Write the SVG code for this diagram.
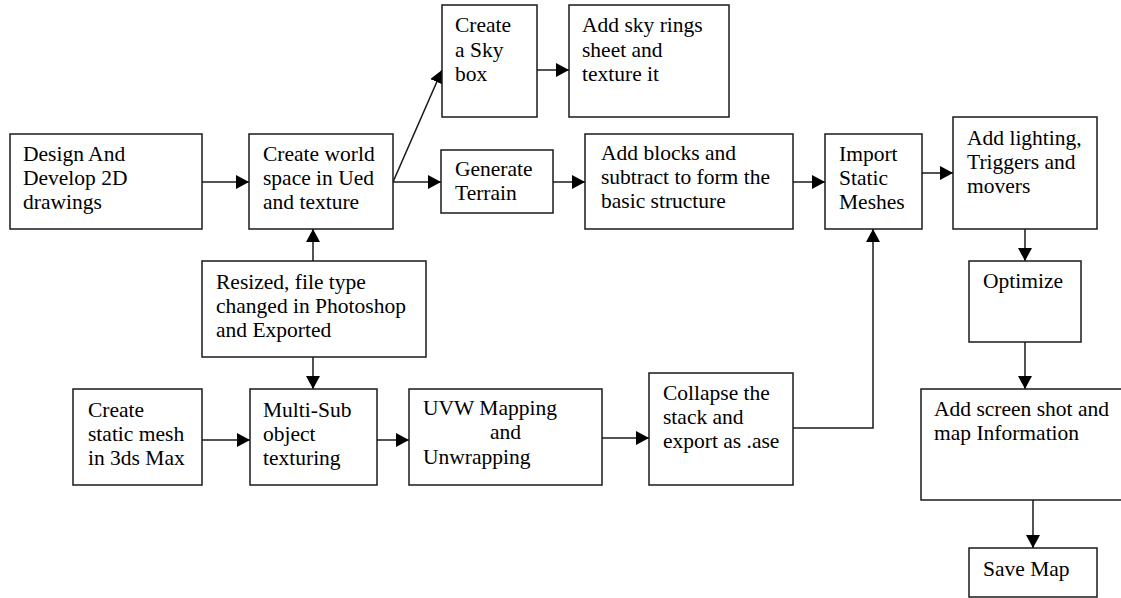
<svg xmlns="http://www.w3.org/2000/svg" width="1121" height="598" viewBox="0 0 1121 598">
<style>
rect{fill:#fff;stroke:#1a1a1a;stroke-width:1.5}
text{font-family:"Liberation Serif","Times New Roman",serif;font-size:21.5px;fill:#000}
.c path,.c line{fill:none;stroke:#1a1a1a;stroke-width:1.5}
</style>
<defs>
<marker id="ah" markerWidth="14" markerHeight="14" refX="13" refY="7" orient="auto" markerUnits="userSpaceOnUse"><path d="M0,0 L13,7 L0,14 z" fill="#000"/></marker>
</defs>
<rect x="0" y="0" width="1121" height="598" style="stroke:none"/>
<g class="c">
<line x1="202" y1="182" x2="249" y2="182" marker-end="url(#ah)"/>
<line x1="393" y1="182" x2="442" y2="70" marker-end="url(#ah)"/>
<line x1="537" y1="70" x2="569" y2="70" marker-end="url(#ah)"/>
<line x1="393" y1="182" x2="441" y2="182" marker-end="url(#ah)"/>
<line x1="553" y1="182" x2="585" y2="182" marker-end="url(#ah)"/>
<line x1="793" y1="182" x2="825" y2="182" marker-end="url(#ah)"/>
<line x1="922" y1="173" x2="953" y2="173" marker-end="url(#ah)"/>
<line x1="1025" y1="229" x2="1025" y2="261" marker-end="url(#ah)"/>
<line x1="1025" y1="342" x2="1025" y2="389" marker-end="url(#ah)"/>
<line x1="1033" y1="500" x2="1033" y2="548" marker-end="url(#ah)"/>
<line x1="313" y1="261" x2="313" y2="229" marker-end="url(#ah)"/>
<line x1="313" y1="357" x2="313" y2="389" marker-end="url(#ah)"/>
<line x1="202" y1="440" x2="250" y2="440" marker-end="url(#ah)"/>
<line x1="377" y1="440" x2="409" y2="440" marker-end="url(#ah)"/>
<line x1="602" y1="438" x2="649" y2="438" marker-end="url(#ah)"/>
<path d="M793,428 H873 V229" marker-end="url(#ah)"/>
</g>
<g id="design"><rect x="10" y="134" width="192" height="95"/><text x="23" y="161">Design And</text><text x="23" y="185">Develop 2D</text><text x="23" y="209">drawings</text></g>
<g id="world"><rect x="249" y="134" width="144" height="95"/><text x="263" y="161">Create world</text><text x="263" y="185">space in Ued</text><text x="263" y="209">and texture</text></g>
<g id="skybox"><rect x="442" y="5" width="95" height="112"/><text x="455" y="32">Create</text><text x="455" y="57">a Sky</text><text x="455" y="81">box</text></g>
<g id="skyrings"><rect x="569" y="5" width="160" height="112"/><text x="582" y="32">Add sky rings</text><text x="582" y="57">sheet and</text><text x="582" y="81">texture it</text></g>
<g id="terrain"><rect x="441" y="150" width="112" height="63"/><text x="455" y="176">Generate</text><text x="455" y="200">Terrain</text></g>
<g id="blocks"><rect x="585" y="134" width="208" height="95"/><text x="601" y="160">Add blocks and</text><text x="601" y="184">subtract to form the</text><text x="601" y="208">basic structure</text></g>
<g id="import"><rect x="825" y="134" width="97" height="95"/><text x="839" y="161">Import</text><text x="839" y="185">Static</text><text x="839" y="209">Meshes</text></g>
<g id="lighting"><rect x="953" y="117" width="144" height="112"/><text x="967" y="145">Add lighting,</text><text x="967" y="169">Triggers and</text><text x="967" y="193">movers</text></g>
<g id="optimize"><rect x="969" y="261" width="112" height="81"/><text x="983" y="288">Optimize</text></g>
<g id="screenshot"><rect x="921" y="389" width="202" height="111"/><text x="934" y="416">Add screen shot and</text><text x="934" y="440">map Information</text></g>
<g id="savemap"><rect x="969" y="548" width="128" height="49"/><text x="983" y="576">Save Map</text></g>
<g id="resized"><rect x="202" y="261" width="224" height="96"/><text x="216" y="289">Resized, file type</text><text x="216" y="313">changed in Photoshop</text><text x="216" y="337">and Exported</text></g>
<g id="staticmesh"><rect x="73" y="389" width="129" height="96"/><text x="88" y="417">Create</text><text x="88" y="441">static mesh</text><text x="88" y="465">in 3ds Max</text></g>
<g id="multisub"><rect x="250" y="389" width="127" height="96"/><text x="263" y="417">Multi-Sub</text><text x="263" y="441">object</text><text x="263" y="465">texturing</text></g>
<g id="uvw"><rect x="409" y="389" width="193" height="96"/><text x="423" y="415">UVW Mapping</text><text x="490" y="439">and</text><text x="423" y="464">Unwrapping</text></g>
<g id="collapse"><rect x="649" y="373" width="144" height="112"/><text x="663" y="400">Collapse the</text><text x="663" y="424">stack and</text><text x="663" y="448">export as .ase</text></g>
</svg>
